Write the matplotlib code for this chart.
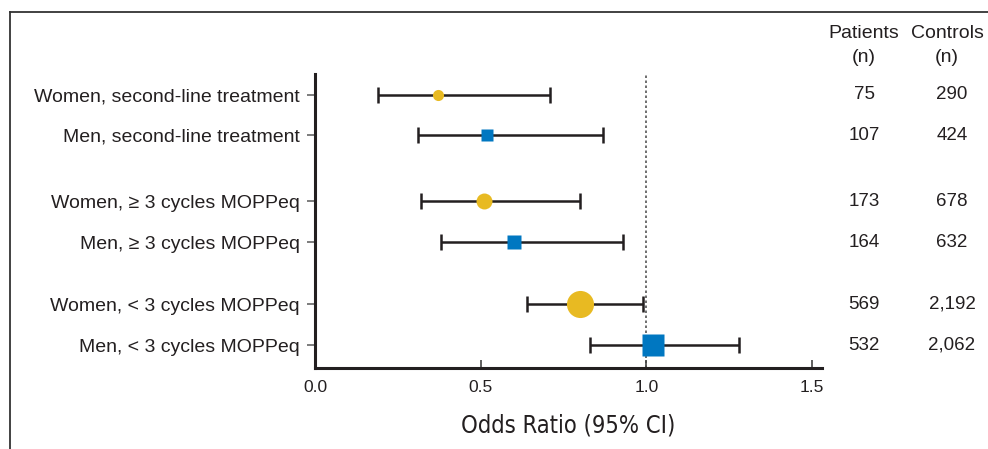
import numpy as np
import matplotlib
matplotlib.use("Agg")
import matplotlib.pyplot as plt
from matplotlib.lines import Line2D
from matplotlib.transforms import blended_transform_factory

plt.rcParams['font.family'] = ['Liberation Sans', 'DejaVu Sans']

labels = ["Women, second-line treatment", "Men, second-line treatment",
          "Women, \u2265 3 cycles MOPPeq", "Men, \u2265 3 cycles MOPPeq",
          "Women, < 3 cycles MOPPeq", "Men, < 3 cycles MOPPeq"]
odds = [0.37, 0.52, 0.51, 0.60, 0.80, 1.02]
ci_low = [0.19, 0.31, 0.32, 0.38, 0.64, 0.83]
ci_high = [0.71, 0.87, 0.80, 0.93, 0.99, 1.28]
patients = ["75", "107", "173", "164", "569", "532"]
controls = ["290", "424", "678", "632", "2,192", "2,062"]
x_ticks = [0.0, 0.5, 1.0, 1.5]

# layout / style
ypos = [6.1, 5.12, 3.51, 2.51, 1.0, 0.0]
markers = ['o', 's', 'o', 's', 'o', 's']
msizes = [8, 8, 11.5, 10, 19.5, 16.5]
yellow = "#E8BA22"
blue = "#0077C1"
mcolors = [yellow, blue, yellow, blue, yellow, blue]
ink = "#231F20"

fig = plt.figure(figsize=(9.88, 4.49), dpi=100)
ax = fig.add_axes([315/988, 81/449, 507/988, 294/449])

ax.axvline(1.0, color="#555555", lw=1.2, ls=(0, (1.5, 1.5)), zorder=1)

for i in range(len(labels)):
    ax.errorbar(odds[i], ypos[i], xerr=[[odds[i]-ci_low[i]], [ci_high[i]-odds[i]]],
                fmt='none', ecolor=ink, elinewidth=1.8, capsize=6, capthick=1.8, zorder=2)
    ax.plot(odds[i], ypos[i], marker=markers[i], ms=msizes[i], color=mcolors[i],
            mec='none', zorder=3)

ax.set_xlim(0, 1.53)
ax.set_ylim(-0.56, 6.61)
ax.set_xticks(x_ticks)
ax.set_xticklabels(["%.1f" % t for t in x_ticks], fontsize=12.5, color=ink)
ax.set_yticks(ypos)
ax.set_yticklabels(labels, fontsize=14, color=ink)

for s in ['top', 'right']:
    ax.spines[s].set_visible(False)
for s in ['left', 'bottom']:
    ax.spines[s].set_linewidth(2.2)
    ax.spines[s].set_color(ink)
ax.tick_params(axis='x', direction='in', length=6, width=1.2, colors="#444444", pad=9)
ax.tick_params(axis='y', direction='out', length=6, width=1.2, colors="#666666", pad=5)
for t in ax.get_xticklabels() + ax.get_yticklabels():
    t.set_color(ink)

ax.set_xlabel("Odds Ratio (95% CI)", fontsize=17, color=ink, labelpad=13,
              family='DejaVu Sans', fontstretch='condensed')

tr = blended_transform_factory(fig.transFigure, ax.transData)
for i in range(len(labels)):
    ax.text(864/988, ypos[i], patients[i], transform=tr, ha='center', va='center',
            fontsize=13.5, color=ink)
    ax.text(952/988, ypos[i], controls[i], transform=tr, ha='center', va='center',
            fontsize=13.5, color=ink)

fig.text(864/988, 1 - 34/449, "Patients", ha='center', va='center', fontsize=14, color=ink)
fig.text(864/988, 1 - 57/449, "(n)", ha='center', va='center', fontsize=14, color=ink)
fig.text(947/988, 1 - 34/449, "Controls", ha='center', va='center', fontsize=14, color=ink)
fig.text(947/988, 1 - 57/449, "(n)", ha='center', va='center', fontsize=14, color=ink)

# frame lines
fig.add_artist(Line2D([10/988, 1.0], [1 - 12/449, 1 - 12/449], transform=fig.transFigure,
                      color="#333333", lw=1.3))
fig.add_artist(Line2D([10/988, 10/988], [0, 1 - 12/449], transform=fig.transFigure,
                      color="#333333", lw=1.3))

fig.savefig("out.png", dpi=100)
